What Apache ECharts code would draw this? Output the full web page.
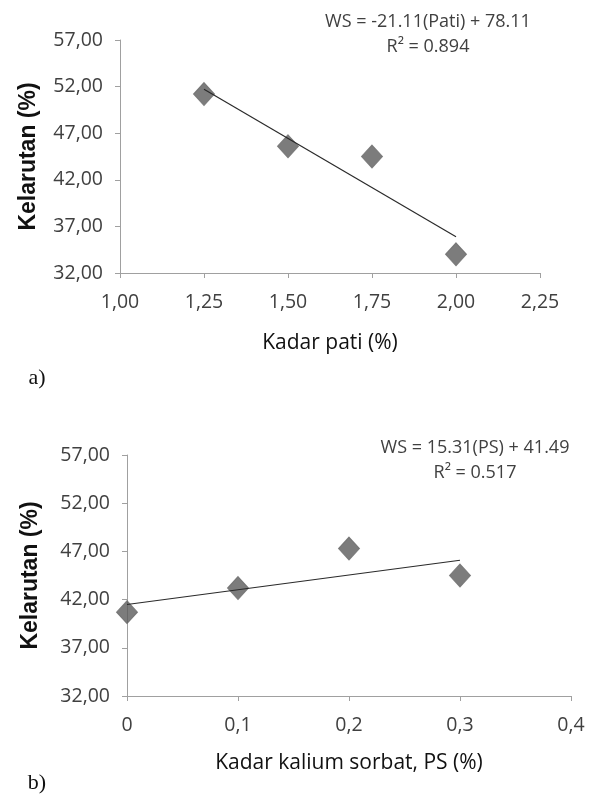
<!DOCTYPE html>
<html>
<head>
<meta charset="utf-8">
<script src="https://cdn.jsdelivr.net/npm/echarts@6/dist/echarts.min.js"></script>
<style>
html,body{margin:0;padding:0;background:#fff;}
#chart{width:603px;height:796px;}
</style>
</head>
<body>
<div id="chart"></div>
<script>
// Chart a) starch content vs solubility
const patiX = [1.25, 1.50, 1.75, 2.00];
const patiY = [51.2, 45.6, 44.5, 34.0];
const patiSlope = -21.11, patiIntercept = 78.11;
const patiXTicks = [1.00, 1.25, 1.50, 1.75, 2.00, 2.25];
// Chart b) potassium sorbate vs solubility
const psX = [0, 0.1, 0.2, 0.3];
const psY = [40.7, 43.2, 47.3, 44.5];
const psSlope = 15.31, psIntercept = 41.49;
const psXTicks = [0, 0.1, 0.2, 0.3, 0.4];
// shared y ticks
const yTicks = [32, 37, 42, 47, 52, 57];

const eqA = ['WS = -21.11(Pati) + 78.11', 'R² = 0.894'];
const eqB = ['WS = 15.31(PS) + 41.49', 'R² = 0.517'];

const chart = echarts.init(document.getElementById('chart'), null, {renderer:'canvas'});
const axisGray = '#a0a0a0';
const txt = '#404040';
const font = 'Open Sans';
const comma = (v, d) => v.toFixed(d).replace('.', ',');

function yAxis(gridIndex, gap) {
  return {
    type: 'value', gridIndex, min: yTicks[0], max: yTicks[yTicks.length-1],
    name: 'Kelarutan (%)', nameLocation: 'middle', nameGap: gap,
    nameTextStyle: {fontFamily: 'Liberation Sans', fontWeight: 'bold', fontSize: 23, color: '#111'},
    axisLine: {show: true, lineStyle: {color: axisGray, width: 1}},
    axisTick: {show: true, length: 5, inside: false, customValues: yTicks, lineStyle: {color: axisGray}},
    axisLabel: {customValues: yTicks, margin: 17, fontFamily: font, fontSize: 19.5, color: txt,
      formatter: v => comma(v, 2)},
    splitLine: {show: false}
  };
}
function xAxis(gridIndex, ticks, name, fmt, gap) {
  return {
    type: 'value', gridIndex, min: ticks[0], max: ticks[ticks.length-1],
    name, nameLocation: 'middle', nameGap: gap,
    nameTextStyle: {fontFamily: font, fontSize: 21, color: '#111'},
    axisLine: {show: true, onZero: false, lineStyle: {color: axisGray, width: 1}},
    axisTick: {show: true, length: 5, customValues: ticks, lineStyle: {color: axisGray}},
    axisLabel: {customValues: ticks, margin: 19, fontFamily: font, fontSize: 19.5, color: txt, formatter: fmt},
    splitLine: {show: false}
  };
}
function pts(xs, ys) { return xs.map((x, i) => [x, ys[i]]); }
function trend(xs, m, b) { const a = xs[0], z = xs[xs.length-1]; return [[a, m*a+b], [z, m*z+b]]; }

const diamond = {type: 'scatter', symbol: 'diamond', symbolSize: [21, 23],
  itemStyle: {color: '#5b5b5b', borderColor: '#6b6b6b', borderWidth: 1}, z: 3};
const tl = {type: 'line', symbol: 'none', lineStyle: {color: '#2a2a2a', width: 1.2}, z: 4, silent: true};

chart.setOption({
  animation: false,
  grid: [
    {left: 120, right: 63, top: 40, bottom: 523},
    {left: 127, right: 32, top: 455, bottom: 100}
  ],
  xAxis: [
    xAxis(0, patiXTicks, 'Kadar pati (%)', v => comma(v, 2), 60),
    xAxis(1, psXTicks, 'Kadar kalium sorbat, PS (%)', v => v === 0 ? '0' : comma(v, 1), 57)
  ],
  yAxis: [yAxis(0, 80), yAxis(1, 85)],
  series: [
    Object.assign({}, diamond, {xAxisIndex: 0, yAxisIndex: 0, data: pts(patiX, patiY)}),
    Object.assign({}, tl, {xAxisIndex: 0, yAxisIndex: 0, data: trend(patiX, patiSlope, patiIntercept)}),
    Object.assign({}, diamond, {xAxisIndex: 1, yAxisIndex: 1, data: pts(psX, psY)}),
    Object.assign({}, tl, {xAxisIndex: 1, yAxisIndex: 1, data: trend(psX, psSlope, psIntercept)})
  ],
  graphic: [
    {type: 'text', x: 428, y: 22, style: {text: eqA[0], fontFamily: font, fontSize: 18, fill: txt, align: 'center', verticalAlign: 'middle'}},
    {type: 'text', x: 428, y: 47, style: {text: eqA[1], fontFamily: font, fontSize: 18, fill: txt, align: 'center', verticalAlign: 'middle'}},
    {type: 'text', x: 475, y: 448, style: {text: eqB[0], fontFamily: font, fontSize: 18, fill: txt, align: 'center', verticalAlign: 'middle'}},
    {type: 'text', x: 475, y: 473, style: {text: eqB[1], fontFamily: font, fontSize: 18, fill: txt, align: 'center', verticalAlign: 'middle'}},
    {type: 'text', x: 37, y: 378, style: {text: 'a)', fontFamily: 'Liberation Serif', fontSize: 22, fill: '#111', align: 'center', verticalAlign: 'middle'}},
    {type: 'text', x: 37, y: 783, style: {text: 'b)', fontFamily: 'Liberation Serif', fontSize: 22, fill: '#111', align: 'center', verticalAlign: 'middle'}}
  ]
});
</script>
</body>
</html>
